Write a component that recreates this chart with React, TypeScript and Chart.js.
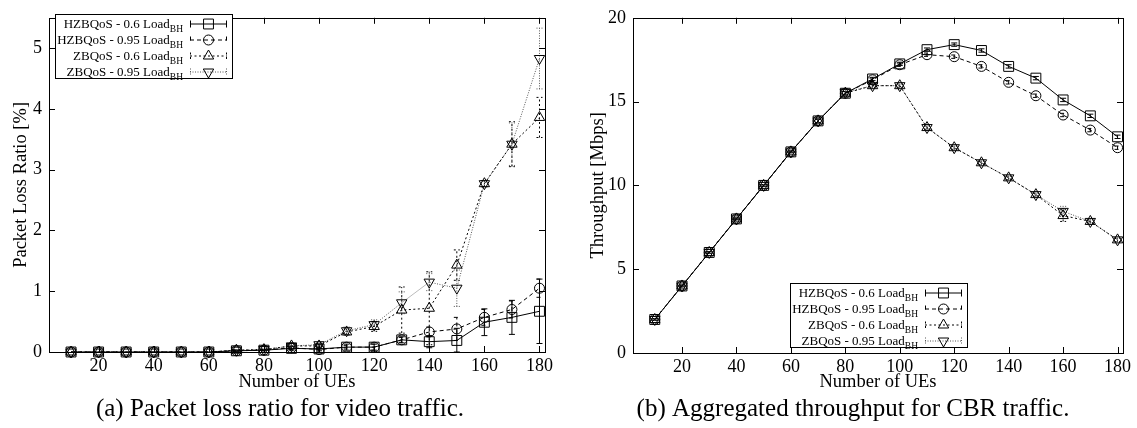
import React, { useEffect, useRef } from 'react';
import { Chart, registerables } from 'chart.js';

Chart.register(...registerables);

// ---------- data ----------
const UES = [10, 20, 30, 40, 50, 60, 70, 80, 90, 100, 110, 120, 130, 140, 150, 160, 170, 180];
const X_TICKS = [20, 40, 60, 80, 100, 120, 140, 160, 180];
const LOSS_TICKS = [0, 1, 2, 3, 4, 5];
const THR_TICKS = [0, 5, 10, 15, 20];

const LEGEND_LABELS = ['HZBQoS - 0.6 Load', 'HZBQoS - 0.95 Load', 'ZBQoS - 0.6 Load', 'ZBQoS - 0.95 Load'];
const LEGEND_SUB = 'BH';

// (a) packet loss ratio [%]
const LOSS_HZ_06 = [0, 0, 0, 0, 0, 0, 0.02, 0.03, 0.06, 0.05, 0.08, 0.08, 0.2, 0.17, 0.19, 0.49, 0.57, 0.67];
const LOSS_HZ_06_ERR = [0, 0, 0, 0, 0, 0, 0.01, 0.01, 0.03, 0.03, 0.05, 0.05, 0.05, 0.1, 0.2, 0.22, 0.28, 0.53];
const LOSS_HZ_095 = [0, 0, 0, 0, 0, 0, 0.02, 0.03, 0.07, 0.04, 0.08, 0.08, 0.2, 0.33, 0.38, 0.57, 0.7, 1.05];
const LOSS_HZ_095_ERR = [0, 0, 0, 0, 0, 0, 0.01, 0.01, 0.03, 0.04, 0.03, 0.05, 0.04, 0.08, 0.19, 0.13, 0.14, 0.15];
const LOSS_Z_06 = [0, 0, 0, 0, 0, 0, 0.03, 0.04, 0.1, 0.1, 0.33, 0.42, 0.69, 0.72, 1.43, 2.77, 3.42, 3.86];
const LOSS_Z_06_ERR = [0, 0, 0, 0, 0, 0, 0.01, 0.01, 0.03, 0.04, 0.05, 0.08, 0.38, 0.6, 0.25, 0.05, 0.37, 0.33];
const LOSS_Z_095 = [0, 0, 0, 0, 0, 0, 0.03, 0.04, 0.1, 0.12, 0.35, 0.45, 0.81, 1.15, 1.05, 2.77, 3.42, 4.83];
const LOSS_Z_095_ERR = [0, 0, 0, 0, 0, 0, 0.01, 0.01, 0.03, 0.03, 0.06, 0.08, 0.18, 0.14, 0.3, 0.05, 0.35, 0.5];

// (b) aggregated throughput [Mbps]
const THR_HZ_06 = [2, 4, 6, 8, 10, 12, 13.85, 15.5, 16.35, 17.25, 18.1, 18.4, 18.05, 17.1, 16.4, 15.1, 14.15, 12.9];
const THR_HZ_06_ERR = [0.05, 0.05, 0.05, 0.05, 0.05, 0.05, 0.1, 0.1, 0.1, 0.1, 0.1, 0.1, 0.1, 0.1, 0.1, 0.1, 0.1, 0.1];
const THR_HZ_095 = [2, 4, 6, 8, 10, 12, 13.85, 15.5, 16.3, 17.2, 17.8, 17.68, 17.1, 16.15, 15.35, 14.2, 13.3, 12.25];
const THR_HZ_095_ERR = [0.05, 0.05, 0.05, 0.05, 0.05, 0.05, 0.1, 0.1, 0.1, 0.1, 0.1, 0.1, 0.1, 0.1, 0.1, 0.1, 0.1, 0.1];
const THR_Z_06 = [2, 4, 6, 8, 10, 12, 13.85, 15.5, 15.95, 15.95, 13.45, 12.25, 11.35, 10.45, 9.45, 8.2, 7.85, 6.75];
const THR_Z_06_ERR = [0.05, 0.05, 0.05, 0.05, 0.05, 0.05, 0.1, 0.1, 0.1, 0.1, 0.1, 0.1, 0.1, 0.1, 0.1, 0.35, 0.1, 0.1];
const THR_Z_095 = [2, 4, 6, 8, 10, 12, 13.85, 15.55, 15.95, 15.95, 13.45, 12.25, 11.35, 10.45, 9.45, 8.45, 7.85, 6.75];
const THR_Z_095_ERR = [0.05, 0.05, 0.05, 0.05, 0.05, 0.05, 0.1, 0.1, 0.1, 0.1, 0.1, 0.1, 0.1, 0.1, 0.1, 0.3, 0.1, 0.1];

const CAPTION_A = '(a) Packet loss ratio for video traffic.';
const CAPTION_B = '(b) Aggregated throughput for CBR traffic.';
const X_TITLE = 'Number of UEs';
const Y_TITLE_A = 'Packet Loss Ratio [%]';
const Y_TITLE_B = 'Throughput [Mbps]';

// ---------- styles ----------
const FONT = '"Liberation Serif", "Times New Roman", serif';
const TICK_FONT_SIZE = 18;

type MarkerStyle = { marker: string; radius: number; rotation: number; dash: number[]; color: string };
const STYLES: MarkerStyle[] = [
  { marker: 'rect', radius: 7, rotation: 0, dash: [], color: '#000' },
  { marker: 'circle', radius: 5, rotation: 0, dash: [4, 3], color: '#000' },
  { marker: 'triangle', radius: 6, rotation: 0, dash: [2, 2.5], color: '#000' },
  { marker: 'triangle', radius: 6, rotation: 180, dash: [1, 1.5], color: '#555' },
];

function drawMarker(ctx: CanvasRenderingContext2D, st: MarkerStyle, x: number, y: number) {
  ctx.save();
  ctx.setLineDash([]);
  ctx.strokeStyle = '#000';
  ctx.lineWidth = 1;
  ctx.beginPath();
  const r = st.radius;
  if (st.marker === 'rect') {
    const s = Math.SQRT1_2 * r;
    ctx.rect(x - s, y - s, 2 * s, 2 * s);
  } else if (st.marker === 'circle') {
    ctx.arc(x, y, r, 0, Math.PI * 2);
  } else {
    let rad = (st.rotation * Math.PI) / 180;
    ctx.moveTo(x + Math.sin(rad) * r, y - Math.cos(rad) * r);
    rad += (2 * Math.PI) / 3;
    ctx.lineTo(x + Math.sin(rad) * r, y - Math.cos(rad) * r);
    rad += (2 * Math.PI) / 3;
    ctx.lineTo(x + Math.sin(rad) * r, y - Math.cos(rad) * r);
    ctx.closePath();
  }
  ctx.stroke();
  ctx.restore();
}

type PanelSpec = {
  canvasLeft: number;
  width: number;
  area: { left: number; right: number; top: number; bottom: number };
  yMax: number;
  yTicks: number[];
  series: number[][];
  errors: number[][];
  legend: { x: number; y: number };
  yTitle: string;
  yTitleX: number;
  caption: string;
  captionX: number;
};

const PANEL_A: PanelSpec = {
  canvasLeft: 0,
  width: 568,
  area: { left: 49, right: 545, top: 11, bottom: 352 },
  yMax: 5.5,
  yTicks: LOSS_TICKS,
  series: [LOSS_HZ_06, LOSS_HZ_095, LOSS_Z_06, LOSS_Z_095],
  errors: [LOSS_HZ_06_ERR, LOSS_HZ_095_ERR, LOSS_Z_06_ERR, LOSS_Z_095_ERR],
  legend: { x: 55, y: 14 },
  yTitle: Y_TITLE_A,
  yTitleX: 26,
  caption: CAPTION_A,
  captionX: 280,
};

const PANEL_B: PanelSpec = {
  canvasLeft: 568,
  width: 569,
  area: { left: 65, right: 555, top: 11, bottom: 353 },
  yMax: 20,
  yTicks: THR_TICKS,
  series: [THR_HZ_06, THR_HZ_095, THR_Z_06, THR_Z_095],
  errors: [THR_HZ_06_ERR, THR_HZ_095_ERR, THR_Z_06_ERR, THR_Z_095_ERR],
  legend: { x: 222, y: 283 },
  yTitle: Y_TITLE_B,
  yTitleX: 35,
  caption: CAPTION_B,
  captionX: 285,
};

const HEIGHT = 428;

function Panel({ spec }: { spec: PanelSpec }) {
  const ref = useRef<HTMLCanvasElement | null>(null);

  useEffect(() => {
    const canvas = ref.current;
    if (!canvas) return;

    const errorBars = {
      id: 'errorBars',
      beforeDatasetsDraw(chart: any) {
        const ctx: CanvasRenderingContext2D = chart.ctx;
        const xs = chart.scales.x;
        const ys = chart.scales.y;
        spec.series.forEach((vals, d) => {
          const st = STYLES[d];
          const errs = spec.errors[d];
          ctx.save();
          ctx.strokeStyle = st.color;
          ctx.lineWidth = 1;
          ctx.setLineDash(st.dash);
          vals.forEach((v, i) => {
            const e = errs[i];
            if (!e) return;
            const px = xs.getPixelForValue(UES[i]);
            const lo = Math.min(ys.getPixelForValue(Math.max(v - e, 0)), chart.chartArea.bottom);
            const hi = ys.getPixelForValue(v + e);
            ctx.beginPath();
            ctx.moveTo(px, lo);
            ctx.lineTo(px, hi);
            ctx.moveTo(px - 3, lo);
            ctx.lineTo(px + 3, lo);
            ctx.moveTo(px - 3, hi);
            ctx.lineTo(px + 3, hi);
            ctx.stroke();
          });
          ctx.restore();
        });
      },
    };

    const decorations = {
      id: 'decorations',
      afterDraw(chart: any) {
        const ctx: CanvasRenderingContext2D = chart.ctx;
        const a = chart.chartArea;
        const xs = chart.scales.x;
        const ys = chart.scales.y;
        ctx.save();
        ctx.strokeStyle = '#000';
        ctx.lineWidth = 1;
        ctx.setLineDash([]);
        // frame
        ctx.strokeRect(Math.round(a.left) + 0.5, Math.round(a.top) + 0.5, Math.round(a.right - a.left), Math.round(a.bottom - a.top));
        // inward ticks (mirrored)
        const TL = 6;
        ctx.beginPath();
        X_TICKS.forEach((v) => {
          const px = Math.round(xs.getPixelForValue(v)) + 0.5;
          ctx.moveTo(px, a.bottom);
          ctx.lineTo(px, a.bottom - TL);
          ctx.moveTo(px, a.top);
          ctx.lineTo(px, a.top + TL);
        });
        spec.yTicks.forEach((v) => {
          const py = Math.round(ys.getPixelForValue(v)) + 0.5;
          ctx.moveTo(a.left, py);
          ctx.lineTo(a.left + TL, py);
          ctx.moveTo(a.right, py);
          ctx.lineTo(a.right - TL, py);
        });
        ctx.stroke();

        // axis titles
        ctx.fillStyle = '#000';
        ctx.font = `18.5px ${FONT}`;
        ctx.textAlign = 'center';
        ctx.textBaseline = 'alphabetic';
        ctx.fillText(X_TITLE, (a.left + a.right) / 2, 387);
        ctx.save();
        ctx.translate(spec.yTitleX, (a.top + a.bottom) / 2);
        ctx.rotate(-Math.PI / 2);
        ctx.fillText(spec.yTitle, 0, 0);
        ctx.restore();

        // caption
        ctx.font = `25px ${FONT}`;
        ctx.fillText(spec.caption, spec.captionX, 416);

        // legend
        const lx = spec.legend.x;
        const ly = spec.legend.y;
        const lw = 177;
        const lh = 64;
        ctx.fillStyle = '#fff';
        ctx.fillRect(lx, ly, lw, lh);
        ctx.strokeRect(lx + 0.5, ly + 0.5, lw, lh);
        LEGEND_LABELS.forEach((label, i) => {
          const st = STYLES[i];
          const cy = ly + 9.5 + i * 16;
          const textRight = lx + 128;
          ctx.font = `9.5px ${FONT}`;
          const subW = ctx.measureText(LEGEND_SUB).width;
          ctx.fillStyle = '#000';
          ctx.textAlign = 'right';
          ctx.textBaseline = 'alphabetic';
          ctx.fillText(LEGEND_SUB, textRight, cy + 8);
          ctx.font = `13px ${FONT}`;
          ctx.fillText(label, textRight - subW, cy + 4.5);
          // sample line with error caps
          const x0 = lx + 135;
          const x1 = lx + 172;
          ctx.save();
          ctx.strokeStyle = st.color;
          ctx.setLineDash(st.dash);
          ctx.beginPath();
          ctx.moveTo(x0, cy + 0.5);
          ctx.lineTo(x1, cy + 0.5);
          ctx.moveTo(x0 + 0.5, cy - 3);
          ctx.lineTo(x0 + 0.5, cy + 4);
          ctx.moveTo(x1 - 0.5, cy - 3);
          ctx.lineTo(x1 - 0.5, cy + 4);
          ctx.stroke();
          ctx.restore();
          drawMarker(ctx, st, lx + 153.5, cy + 0.5);
        });
        ctx.restore();
      },
    };

    const datasets = spec.series.map((vals, d) => {
      const st = STYLES[d];
      return {
        label: LEGEND_LABELS[d] + LEGEND_SUB,
        data: UES.map((x, i) => ({ x, y: vals[i] })),
        borderColor: st.color,
        borderWidth: 1,
        borderDash: st.dash,
        backgroundColor: 'rgba(0,0,0,0)',
        fill: false,
        tension: 0,
        pointStyle: st.marker,
        pointRadius: st.radius,
        pointRotation: st.rotation,
        pointBorderColor: '#000',
        pointBorderWidth: 1,
        pointBackgroundColor: 'rgba(0,0,0,0)',
        clip: false,
      };
    });

    const a = spec.area;
    const chart = new Chart(canvas, {
      type: 'line',
      data: { datasets } as any,
      options: {
        responsive: false,
        maintainAspectRatio: false,
        animation: false,
        devicePixelRatio: 1,
        layout: { padding: { left: 0, top: a.top, right: spec.width - a.right, bottom: 0 } },
        scales: {
          x: {
            type: 'linear',
            min: 2,
            max: 182,
            afterBuildTicks: (s: any) => {
              s.ticks = X_TICKS.map((value) => ({ value }));
            },
            afterFit: (s: any) => {
              s.height = HEIGHT - a.bottom;
            },
            grid: { display: false, drawTicks: false },
            border: { display: false },
            ticks: {
              color: '#000',
              font: { family: FONT, size: TICK_FONT_SIZE },
              padding: 3,
              maxRotation: 0,
              autoSkip: false,
            },
          },
          y: {
            type: 'linear',
            min: 0,
            max: spec.yMax,
            afterBuildTicks: (s: any) => {
              s.ticks = spec.yTicks.map((value) => ({ value }));
            },
            afterFit: (s: any) => {
              s.width = a.left;
            },
            grid: { display: false, drawTicks: false },
            border: { display: false },
            ticks: {
              color: '#000',
              font: { family: FONT, size: TICK_FONT_SIZE },
              padding: 7,
              autoSkip: false,
            },
          },
        },
        plugins: {
          legend: { display: false },
          tooltip: { enabled: false },
          title: { display: false },
        },
      } as any,
      plugins: [errorBars, decorations],
    });
    return () => chart.destroy();
  }, [spec]);

  return (
    <canvas
      ref={ref}
      width={spec.width}
      height={HEIGHT}
      style={{ position: 'absolute', left: spec.canvasLeft, top: 0, width: spec.width, height: HEIGHT }}
    />
  );
}

export default function App() {
  return (
    <div style={{ position: 'fixed', left: 0, top: 0, width: 1137, height: HEIGHT, background: '#fff', overflow: 'hidden' }}>
      <Panel spec={PANEL_A} />
      <Panel spec={PANEL_B} />
    </div>
  );
}
